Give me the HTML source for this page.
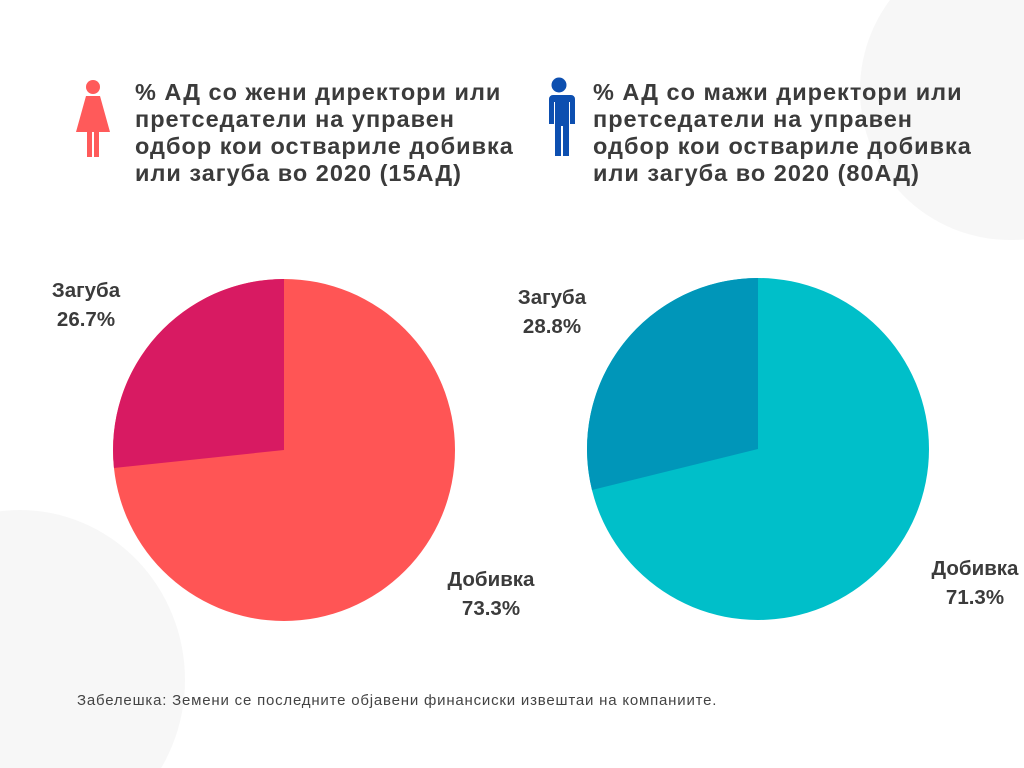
<!DOCTYPE html>
<html><head><meta charset="utf-8"><style>
html,body{margin:0;width:1024px;height:768px;overflow:hidden}
body{background:#fff;position:relative;font-family:"Liberation Sans",sans-serif}
.t{position:absolute;font-weight:bold;font-size:23.5px;line-height:27px;color:#3b3b3b;letter-spacing:1px;white-space:nowrap}
.l{position:absolute;font-weight:bold;font-size:20.5px;line-height:29px;color:#3b3b3b;text-align:center}
</style></head><body>
<svg width="1024" height="768" style="position:absolute;left:0;top:0">
<circle cx="1010" cy="90" r="150" fill="#f7f7f7"/>
<ellipse cx="20" cy="680" rx="165" ry="170" fill="#f7f7f7"/>
<g fill="#ff5a5a">
<circle cx="93" cy="87" r="7"/>
<path d="M86 96 h14 l10 36 h-6 l-6 -20 l7 20 h-6 v25 h-5 v-25 h-2 v25 h-5 v-25 h-6 l7 -20 l-6 20 h-6 z"/>
</g>
<g fill="#0d4fb0">
<circle cx="559" cy="85" r="7.5"/>
<path d="M547 95 h24 a4 4 0 0 1 4 4 v25 h-5 v-22 h-1 v54 h-6 v-30 h-2 v30 h-6 v-54 h-1 v22 h-5 v-25 a4 4 0 0 1 4 -4 z"/>
</g>
<circle cx="284" cy="450" r="171" fill="#ff5555"/>
<path d="M284 450 L284 279 A171 171 0 0 0 114 468 Z" fill="#d81a62"/>
<circle cx="758" cy="449" r="171" fill="#00bfc9"/>
<path d="M758 449 L758 278 A171 171 0 0 0 592 490 Z" fill="#0096b9"/>
</svg>
<div class="t" style="left:135px;top:79px">% АД со жени директори или<br>претседатели на управен<br>одбор кои оствариле добивка<br>или загуба во 2020 (15АД)</div>
<div class="t" style="left:593px;top:79px">% АД со мажи директори или<br>претседатели на управен<br>одбор кои оствариле добивка<br>или загуба во 2020 (80АД)</div>
<div class="l" style="left:36px;top:276px;width:100px">Загуба<br>26.7%</div>
<div class="l" style="left:441px;top:565px;width:100px">Добивка<br>73.3%</div>
<div class="l" style="left:502px;top:283px;width:100px">Загуба<br>28.8%</div>
<div class="l" style="left:925px;top:554px;width:100px">Добивка<br>71.3%</div>
<div style="position:absolute;left:77px;top:692px;font-size:15px;letter-spacing:0.8px;color:#444;white-space:nowrap">Забелешка: Земени се последните објавени финансиски извештаи на компаниите.</div>
</body></html>
